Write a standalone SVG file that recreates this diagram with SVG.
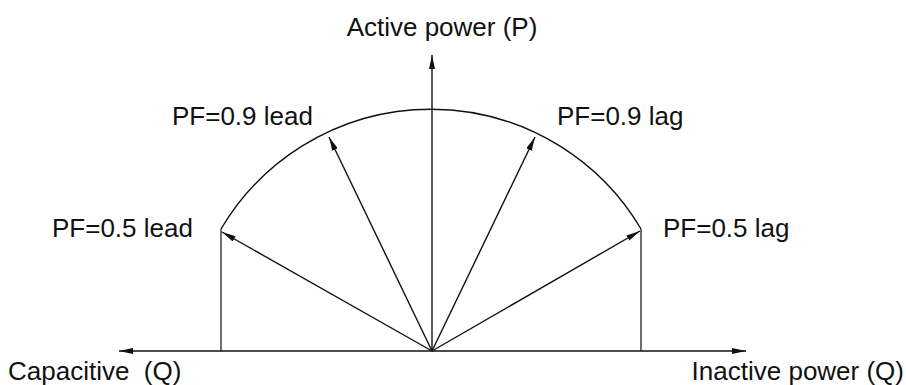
<svg xmlns="http://www.w3.org/2000/svg" width="906" height="385" viewBox="0 0 906 385">
<style>
.ln{stroke:#111;stroke-width:1.4;fill:none}
.gl{stroke:#333;stroke-width:1.4;fill:none}
.t{font-family:"Liberation Sans",Arial,sans-serif;font-size:26px;fill:#111}
</style>
<defs>
<marker id="ah" viewBox="0 0 14 6" refX="14" refY="3" markerWidth="14" markerHeight="6" markerUnits="userSpaceOnUse" orient="auto">
<path d="M0,0 L14,3 L0,6 z" fill="#111"/>
</marker>
</defs>
<rect width="906" height="385" fill="#fff"/>
<g id="connectors">
<path id="arc" class="ln" d="M221,229 A244,244 0 0 1 641,229"/>
<line class="gl" x1="221" y1="229" x2="221" y2="351"/>
<line class="gl" x1="641" y1="229" x2="641" y2="351"/>
<line class="ln" x1="432" y1="351" x2="119" y2="351" marker-end="url(#ah)"/>
<line class="ln" x1="432" y1="351" x2="746" y2="351" marker-end="url(#ah)"/>
<line class="ln" x1="432" y1="351" x2="432" y2="55" marker-end="url(#ah)"/>
<line class="ln" x1="432" y1="351" x2="222" y2="232" marker-end="url(#ah)"/>
<line class="ln" x1="432" y1="351" x2="640" y2="231" marker-end="url(#ah)"/>
<line class="ln" x1="432" y1="351" x2="329" y2="137" marker-end="url(#ah)"/>
<line class="ln" x1="432" y1="351" x2="535" y2="137" marker-end="url(#ah)"/>
</g>
<g id="label-p"><text class="t" x="442" y="36" text-anchor="middle">Active power (P)</text></g>
<g id="label-cap"><text class="t" x="8" y="380" xml:space="preserve">Capacitive  (Q)</text></g>
<g id="label-inact"><text class="t" x="904" y="380" text-anchor="end">Inactive power (Q)</text></g>
<g id="pf05lead"><text class="t" x="52" y="237">PF=0.5 lead</text></g>
<g id="pf05lag"><text class="t" x="663" y="237">PF=0.5 lag</text></g>
<g id="pf09lead"><text class="t" x="172" y="125">PF=0.9 lead</text></g>
<g id="pf09lag"><text class="t" x="557" y="125">PF=0.9 lag</text></g>
</svg>
